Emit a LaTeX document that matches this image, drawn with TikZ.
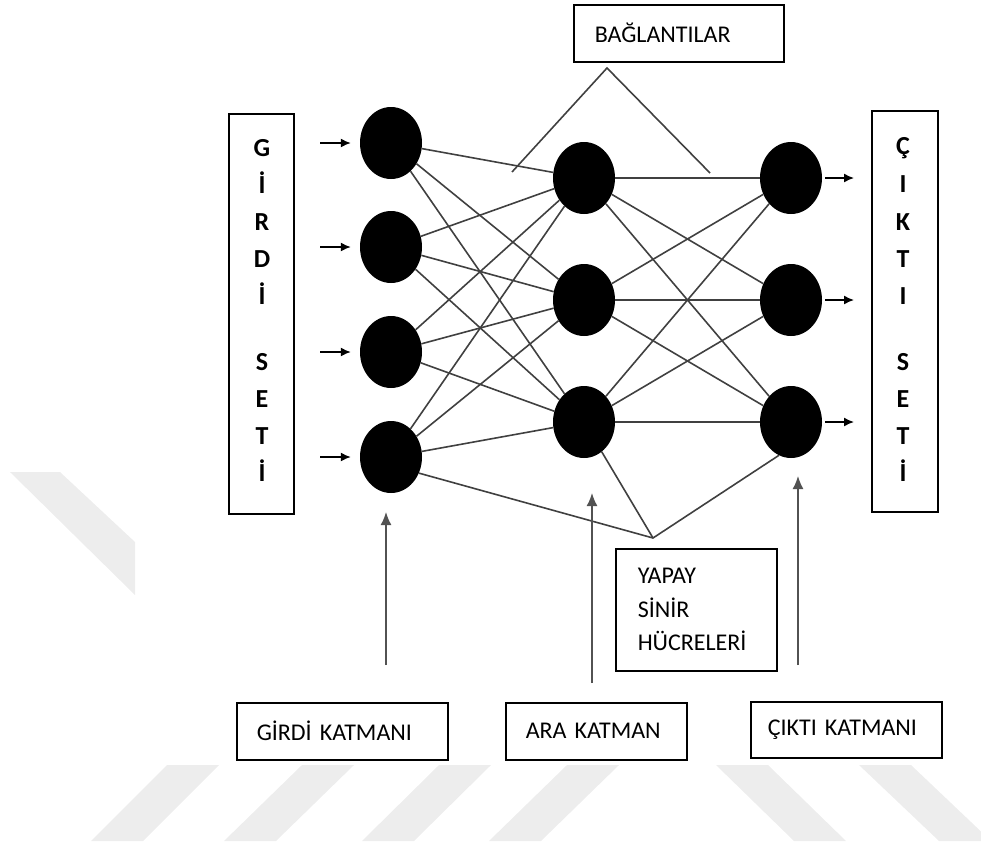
\documentclass[tikz,border=0pt]{standalone}
\usepackage{fontspec}
\setmainfont{Carlito}
\usetikzlibrary{shapes.geometric,arrows.meta}

\begin{document}
\begin{tikzpicture}[x=1pt, y=-1pt,
		noron/.style={ellipse, fill=black, minimum width=62pt, minimum height=72pt, inner sep=0pt},
		bag/.style={draw=black!75, line width=1.6pt},
		okk/.style={-{Latex[length=10pt,width=9pt]}, line width=1.5pt},
		okb/.style={-{Latex[length=13pt,width=11pt]}, draw=black!68, line width=1.6pt},
		kutu/.style={draw, line width=1.5pt, anchor=north west, align=left, inner ysep=0pt, font=\fontsize{24}{33.5}\selectfont},
		harf/.style={anchor=base, font=\fontsize{26}{26}\selectfont\bfseries}]
	\useasboundingbox (0,0) rectangle (981,846);
	% filigran
	\fill[black!7] (10,472) -- (60,472) -- (135,542) -- (135,595) -- cycle;
	\foreach \a/\b in {167/91,302/224,439/362,567/489,716/794,859/939}
		\fill[black!7] (\a,765) -- (\a+52,765) -- (\b+52,841) -- (\b,841) -- cycle;

	% katmanlar
	\foreach \y [count=\i] in {143,247,352,457} \node[noron] (i\i) at (391,\y) {};
	\foreach \y [count=\i] in {178,300,422} {
		\node[noron] (h\i) at (584,\y) {};
		\node[noron] (o\i) at (791,\y) {};
	}
	\foreach \i in {1,...,4} \foreach \j in {1,2,3} \draw[bag] (i\i) -- (h\j);
	\foreach \i in {1,2,3} \foreach \j in {1,2,3} \draw[bag] (h\i) -- (o\j);

	\foreach \i in {1,...,4} {
		\path (i\i) ++(-71,0) coordinate (g\i);
		\draw[okk, shorten >=9pt] (g\i) -- (i\i);
	}
	\foreach \i in {1,2,3} {
		\path (o\i) ++(63,0) coordinate (c\i);
		\draw[okk, shorten <=3pt] (o\i) -- (c\i);
	}

	% setler
	\node[kutu, line width=2pt, minimum width=65pt, minimum height=400pt] (gset) at (228,113) {};
	\node[kutu, line width=2pt, minimum width=66pt, minimum height=401pt] (cset) at (871,110) {};
	\foreach \h/\y [count=\i] in {G/156,İ/193,R/230,D/267,İ/304,S/370,E/407,T/444,İ/481}
		\node[harf] (gh\i) at (262,\y) {\h};
	\foreach \h/\y [count=\i] in {Ç/154,I/192,K/230,T/267,I/304,S/370,E/407,T/444,İ/481}
		\node[harf] (ch\i) at (903,\y) {\h};

	% etiketler
	\node[kutu, text width=168pt, inner xsep=21pt, minimum height=57pt] (bagl) at (573,4) {BAĞLANTILAR};
	\node[kutu, text width=117pt, inner xsep=22pt, minimum height=122pt] (yapay) at (615,548) {YAPAY\\SİNİR\\HÜCRELERİ};
	\node[kutu, text width=171pt, inner xsep=20pt, minimum height=57pt] (gk) at (236,702) {GİRDİ KATMANI};
	\node[kutu, text width=141pt, inner xsep=20pt, minimum height=57pt] (ak) at (505,702) {ARA KATMAN};
	\node[kutu, text width=157pt, inner xsep=17pt, minimum height=56pt] (ck) at (750,701) {ÇIKTI KATMANI};

	\coordinate (tepe) at (607,68);
	\coordinate (sol) at (512,172);
	\coordinate (sag) at (710,173);
	\draw[bag] (sol) -- (tepe) -- (sag);
	\coordinate (uc) at (653,538);
	\draw[bag] (i4.-30) -- (uc) -- (o3.-110);
	\draw[bag] (h3) -- (uc);

	\coordinate (ga) at (386,665); \coordinate (gu) at (386,512);
	\coordinate (aa) at (592,683); \coordinate (au) at (592,493);
	\coordinate (ca) at (798,665); \coordinate (cu) at (798,476);
	\draw[okb] (ga) -- (gu);
	\draw[okb] (aa) -- (au);
	\draw[okb] (ca) -- (cu);
\end{tikzpicture}
\end{document}
